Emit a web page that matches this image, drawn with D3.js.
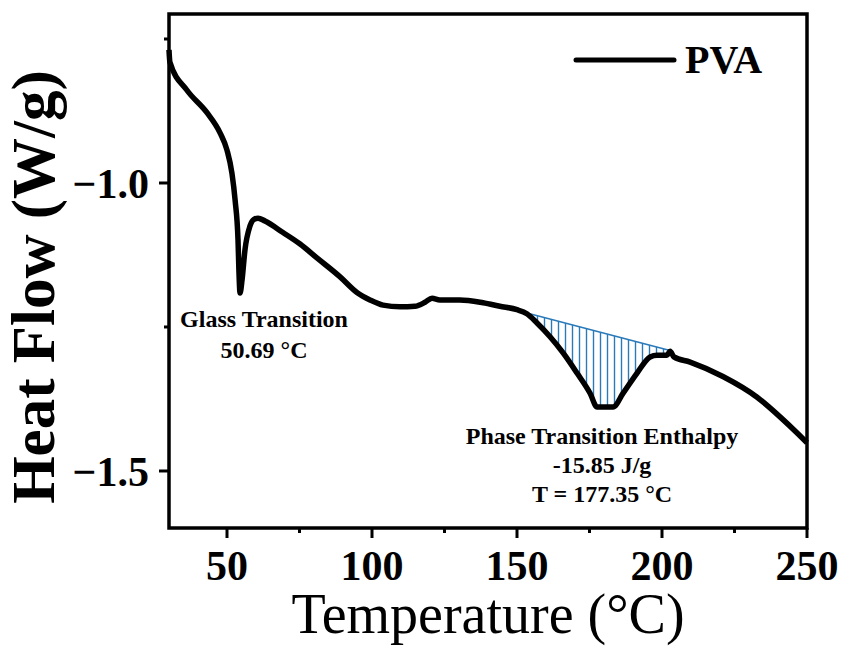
<!DOCTYPE html>
<html>
<head>
<meta charset="utf-8">
<script src="https://cdn.jsdelivr.net/npm/d3@7"></script>
<style>
  body { margin: 0; background: #fff; }
  text { font-family: "Liberation Serif", "Times New Roman", serif; }
</style>
</head>
<body>
<script>
// DSC curve: temperature (°C) and heat flow (W/g)
var temps = [30, 30.3, 36.2, 43.1, 47.6, 50.0, 51.7, 52.8, 53.8, 54.1, 54.5, 55.2, 56.2, 57.9, 59.3, 60.7,
    63.1, 69.3, 75.2, 81.0, 89.0, 94.8, 99.3, 103.8, 109.7, 114.8, 118.3, 120.7, 123.4, 130.3,
    138.3, 144.1, 150.0, 153.4, 156.9, 161.4, 165.9, 170.7, 175.2, 177.6, 180.3, 183.1, 186.6,
    191.4, 195.9, 198.3, 201.7, 202.8, 204.1, 209.7, 221.0, 232.8, 240.7, 246.6, 250];
var heatFlow = [-0.769, -0.790, -0.839, -0.878, -0.913, -0.943, -0.983, -1.030, -1.099, -1.151, -1.191, -1.168,
    -1.116, -1.075, -1.063, -1.061, -1.066, -1.086, -1.106, -1.130, -1.163, -1.190, -1.203, -1.212, -1.215,
    -1.214, -1.207, -1.200, -1.203, -1.203, -1.208, -1.214, -1.220, -1.227, -1.243, -1.267, -1.295, -1.330,
    -1.365, -1.389, -1.389, -1.389, -1.365, -1.330, -1.302, -1.299, -1.299, -1.292, -1.302, -1.311,
    -1.336, -1.372, -1.406, -1.434, -1.451];

// integration baseline of the melting peak
var peakBaseT = [152.1, 202.1];
var peakBaseHF = [-1.224, -1.290];

var xTicks = [50, 100, 150, 200, 250];
var xMinor = [75, 125, 175, 225];
var yTicks = [-1.0, -1.5];
var yMinor = [-0.75, -1.25];

var W = 845, H = 646;
var svg = d3.select("body").append("svg")
    .attr("width", W)
    .attr("height", H);

var x = d3.scaleLinear().domain([30, 250]).range([169, 807]);
var y = d3.scaleLinear().domain([-0.7066, -1.599]).range([14, 528]);

var pts = temps.map((t, i) => [t, heatFlow[i]]);

// hatch pattern for the enthalpy area
var defs = svg.append("defs");
defs.append("pattern")
    .attr("id", "hatch")
    .attr("patternUnits", "userSpaceOnUse")
    .attr("width", 7)
    .attr("height", 10)
    .attr("x", 2)
  .append("line")
    .attr("x1", 3.5).attr("x2", 3.5)
    .attr("y1", 0).attr("y2", 10)
    .attr("stroke", "#2a7ab9")
    .attr("stroke-width", 1.4);

var line = d3.line()
    .x(d => x(d[0]))
    .y(d => y(d[1]))
    .curve(d3.curveMonotoneX);

// polygon between the baseline and the curve
var inner = pts.filter(d => d[0] > peakBaseT[0] && d[0] < peakBaseT[1]);
var areaPts = [[peakBaseT[0], peakBaseHF[0]]].concat(inner).concat([[peakBaseT[1], peakBaseHF[1]]]);
svg.append("path")
    .attr("d", line(areaPts) + "Z")
    .attr("fill", "url(#hatch)")
    .attr("stroke", "none");

svg.append("line")
    .attr("x1", x(peakBaseT[0])).attr("y1", y(peakBaseHF[0]))
    .attr("x2", x(peakBaseT[1])).attr("y2", y(peakBaseHF[1]))
    .attr("stroke", "#2a7ab9")
    .attr("stroke-width", 1.6);

// the curve
svg.append("path")
    .datum(pts)
    .attr("d", line)
    .attr("fill", "none")
    .attr("stroke", "#000")
    .attr("stroke-width", 5.5)
    .attr("stroke-linejoin", "round");

// frame
svg.append("rect")
    .attr("x", 169).attr("y", 14)
    .attr("width", 807 - 169).attr("height", 528 - 14)
    .attr("fill", "none")
    .attr("stroke", "#000")
    .attr("stroke-width", 3.5);

// ticks
var gx = svg.append("g");
gx.selectAll(".maj").data(xTicks).enter().append("line")
    .attr("x1", d => x(d)).attr("x2", d => x(d))
    .attr("y1", 528).attr("y2", 538)
    .attr("stroke", "#000").attr("stroke-width", 3);
gx.selectAll(".min").data(xMinor).enter().append("line")
    .attr("x1", d => x(d)).attr("x2", d => x(d))
    .attr("y1", 528).attr("y2", 533)
    .attr("stroke", "#000").attr("stroke-width", 3);
gx.selectAll("text").data(xTicks).enter().append("text")
    .attr("x", d => x(d))
    .attr("y", 580)
    .attr("text-anchor", "middle")
    .attr("font-size", "42px")
    .attr("font-weight", "bold")
    .text(d => d);

var gy = svg.append("g");
gy.selectAll(".maj").data(yTicks).enter().append("line")
    .attr("x1", 159).attr("x2", 169)
    .attr("y1", d => y(d)).attr("y2", d => y(d))
    .attr("stroke", "#000").attr("stroke-width", 3);
gy.selectAll(".min").data(yMinor).enter().append("line")
    .attr("x1", 164).attr("x2", 169)
    .attr("y1", d => y(d)).attr("y2", d => y(d))
    .attr("stroke", "#000").attr("stroke-width", 3);
gy.selectAll("text").data(yTicks).enter().append("text")
    .attr("x", 149)
    .attr("y", d => y(d) + 15)
    .attr("text-anchor", "end")
    .attr("font-size", "42px")
    .attr("font-weight", "bold")
    .text(d => d3.format(".1f")(d).replace("-", "\u2212"));

// axis titles
svg.append("text")
    .attr("x", 488)
    .attr("y", 633)
    .attr("text-anchor", "middle")
    .attr("font-size", "56px")
    .text("Temperature (\u00B0C)");

svg.append("text")
    .attr("transform", "translate(54,287) rotate(-90)")
    .attr("text-anchor", "middle")
    .attr("font-size", "61px")
    .attr("font-weight", "bold")
    .text("Heat Flow (W/g)");

// legend
svg.append("line")
    .attr("x1", 576).attr("x2", 674)
    .attr("y1", 60).attr("y2", 60)
    .attr("stroke", "#000")
    .attr("stroke-width", 5)
    .attr("stroke-linecap", "round");
svg.append("text")
    .attr("x", 685).attr("y", 73)
    .attr("font-size", "40px")
    .attr("font-weight", "bold")
    .text("PVA");

// annotations
var notes = [
    {x: 264, y: 327, t: "Glass Transition"},
    {x: 264, y: 358, t: "50.69 \u00B0C"},
    {x: 602, y: 444, t: "Phase Transition Enthalpy"},
    {x: 602, y: 473, t: "-15.85 J/g"},
    {x: 602, y: 502, t: "T = 177.35 \u00B0C"}
];
svg.selectAll(".note").data(notes).enter().append("text")
    .attr("x", d => d.x).attr("y", d => d.y)
    .attr("text-anchor", "middle")
    .attr("font-size", "24px")
    .attr("font-weight", "bold")
    .text(d => d.t);
</script>
</body>
</html>
